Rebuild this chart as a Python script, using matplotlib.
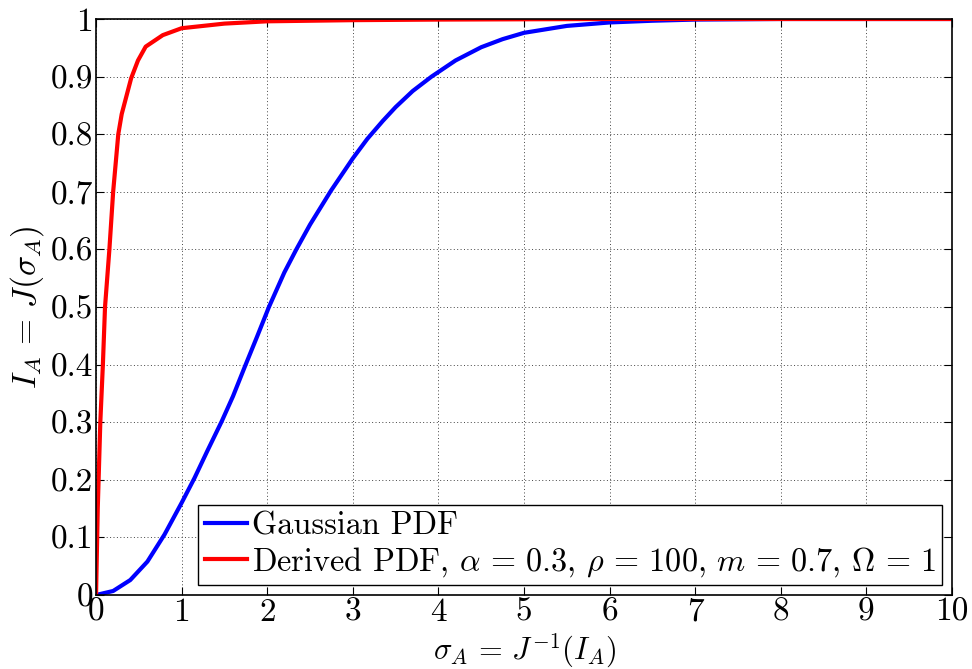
import matplotlib
matplotlib.use("Agg")
import matplotlib.pyplot as plt
from matplotlib.ticker import FuncFormatter

plt.rcParams['font.family'] = 'serif'
plt.rcParams['font.serif'] = ['cmr10', 'DejaVu Serif']
plt.rcParams['mathtext.fontset'] = 'cm'
plt.rcParams['axes.unicode_minus'] = False

# Gaussian PDF J-function
gauss_x = [0, 0.2, 0.4, 0.6, 0.8, 1.0, 1.15, 1.3, 1.47, 1.6, 1.74, 1.88,
           2.02, 2.2, 2.34, 2.5, 2.745, 3.0, 3.17, 3.35, 3.5, 3.7, 3.92,
           4.2, 4.5, 4.75, 5.0, 5.5, 6.0, 6.5, 7.0, 8.0, 9.0, 10.0]
gauss_y = [0, 0.007, 0.026, 0.058, 0.105, 0.16, 0.203, 0.25, 0.302, 0.345,
           0.397, 0.448, 0.5, 0.56, 0.6, 0.643, 0.702, 0.758, 0.792,
           0.823, 0.847, 0.875, 0.9, 0.928, 0.951, 0.965, 0.976, 0.988, 0.994,
           0.997, 0.999, 1.0, 1.0, 1.0]

# Derived PDF curve
derived_x = [0, 0.02, 0.05, 0.08, 0.105, 0.156, 0.2, 0.26, 0.3, 0.41, 0.49,
             0.58, 0.78, 1.0, 1.5, 2.0, 3.0, 4.0, 6.0, 10.0]
derived_y = [0, 0.15, 0.3, 0.4, 0.5, 0.6, 0.7, 0.8, 0.835, 0.897, 0.928,
             0.952, 0.972, 0.984, 0.992, 0.996, 0.998, 0.999, 1.0, 1.0]

x_ticks = [0, 1, 2, 3, 4, 5, 6, 7, 8, 9, 10]
y_ticks = [0, 0.1, 0.2, 0.3, 0.4, 0.5, 0.6, 0.7, 0.8, 0.9, 1.0]

labels = ['Gaussian PDF',
          r'Derived PDF, $\alpha\,=\,0.3$, $\rho\,=\,100$, $m\,=\,0.7$, '
          r'$\Omega\,=\,1$']

FS = 24

fig = plt.figure(figsize=(9.72, 6.69), dpi=100)
ax = fig.add_axes([0.0988, 0.1106, 0.8806, 0.861])

ax.plot(gauss_x, gauss_y, color=(0, 0, 1), lw=3, label=labels[0],
        solid_joinstyle='round')
ax.plot(derived_x, derived_y, color=(1, 0, 0), lw=3, label=labels[1],
        solid_joinstyle='round')

ax.set_xlim(0, 10)
ax.set_ylim(0, 1)
ax.set_xticks(x_ticks)
ax.set_yticks(y_ticks)
fmt = FuncFormatter(lambda v, p: ('%g' % round(v, 3)))
ax.xaxis.set_major_formatter(fmt)
ax.yaxis.set_major_formatter(fmt)
ax.tick_params(direction='in', top=True, right=True, labelsize=FS, length=6,
               width=0.8)
ax.tick_params(axis='x', pad=2)
ax.tick_params(axis='y', pad=2)
ax.grid(True, linestyle=(0, (1, 2.5)), color='#444444', linewidth=0.7)
for s in ax.spines.values():
    s.set_linewidth(1.2)

ax.set_xlabel(r'$\sigma_A\,=\,J^{-1}(I_A)$', fontsize=22)
ax.set_ylabel(r'$I_A\,=\,J(\sigma_A)$', fontsize=FS)
ax.xaxis.set_label_coords(0.5, -0.064)
ax.yaxis.set_label_coords(-0.058, 0.5)

leg = ax.legend(loc='lower right', fontsize=23.2, fancybox=False,
                edgecolor='black', framealpha=1, handlelength=1.3,
                handletextpad=0.15, borderpad=0.2, labelspacing=0.14,
                borderaxespad=0.3)
leg.get_frame().set_linewidth(1.0)

fig.savefig('out.png', dpi=100)
